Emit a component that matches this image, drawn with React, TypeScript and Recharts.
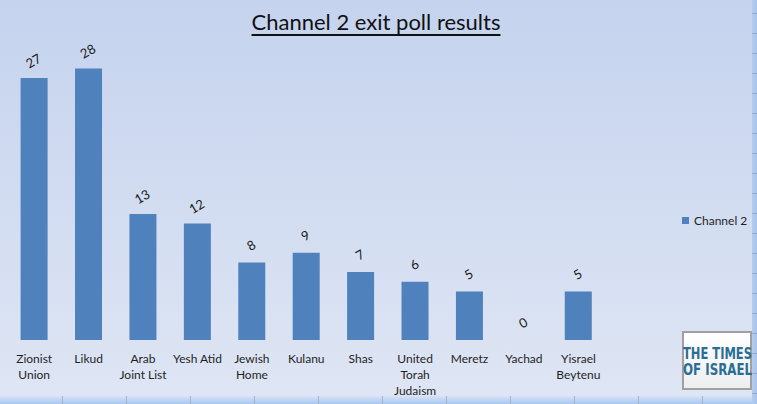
import React from "react";
import { Bar, BarChart, LabelList, Legend, XAxis, YAxis } from "recharts";

const parties = [
  "Zionist\nUnion",
  "Likud",
  "Arab\nJoint List",
  "Yesh Atid",
  "Jewish\nHome",
  "Kulanu",
  "Shas",
  "United\nTorah\nJudaism",
  "Meretz",
  "Yachad",
  "Yisrael\nBeytenu",
  "",
];
const seats: (number | null)[] = [27, 28, 13, 12, 8, 9, 7, 6, 5, 0, 5, null];
const boundaries = [0, 1, 2, 3, 4, 5, 6, 7, 8, 9, 10, 11, 12];

const data = parties.map((p, i) => ({ party: p, "Channel 2": seats[i] }));

const FONT = "Lato, 'Open Sans', sans-serif";
const BAR = "#4f81bd";
const LOGO_FONT = "'Liberation Sans Narrow', 'DejaVu Sans Condensed', sans-serif";

function PartyTick({ x, y, payload }: any) {
  const lines = String(payload.value).split("\n");
  return (
    <text x={x} y={y} textAnchor="middle" fontSize={12} fontFamily={FONT} fill="#1f1f1f">
      {lines.map((l, i) => (
        <tspan key={i} x={x} dy={i === 0 ? 21 : 16}>
          {l}
        </tspan>
      ))}
    </text>
  );
}

function SeatLabel({ x, y, width, value }: any) {
  if (value == null) return null;
  const cx = x + width / 2;
  const cy = y - 16;
  return (
    <text
      x={cx}
      y={cy}
      transform={`rotate(-30 ${cx} ${cy})`}
      textAnchor="middle"
      dominantBaseline="middle"
      fontSize={13}
      fontFamily={FONT}
      fill="#1a1a1a"
    >
      {value}
    </text>
  );
}

function LegendBox() {
  return (
    <div style={{ display: "flex", alignItems: "center", fontFamily: FONT, fontSize: 12, color: "#1f1f1f" }}>
      <span style={{ width: 7, height: 7, background: BAR, marginRight: 5, display: "inline-block" }} />
      Channel 2
    </div>
  );
}

export default function App() {
  const cellLines = [62, 126, 190, 254, 318, 382, 446, 510, 574, 638, 702];
  const rowLines = [13, 33, 53, 73, 93, 113, 133, 153, 173, 193, 213, 233, 253, 273, 293, 313, 333, 353, 373, 393];
  return (
    <div
      style={{
        position: "absolute",
        left: 0,
        top: 0,
        width: 757,
        height: 404,
        overflow: "hidden",
        background: "linear-gradient(#c5d3ee, #dfe6f4)",
      }}
    >
      <div
        style={{
          position: "absolute",
          left: 0,
          width: 752,
          top: 8,
          textAlign: "center",
          fontFamily: FONT,
          fontSize: 22,
          color: "#111",
          textDecoration: "underline",
          textDecorationThickness: 2,
          textUnderlineOffset: 4,
        }}
      >
        Channel 2 exit poll results
      </div>

      <BarChart
        width={757}
        height={404}
        data={data}
        margin={{ top: 49, right: 97, left: 7, bottom: 0 }}
        barCategoryGap="25%"
        style={{ position: "absolute", left: 0, top: 0 }}
      >
        <XAxis
          xAxisId="grid"
          type="number"
          domain={[0, 12]}
          ticks={boundaries}
          tick={false}
          tickSize={5}
          height={0}
          stroke="#8a8a8a"
        />
        <XAxis
          dataKey="party"
          interval={0}
          tick={<PartyTick />}
          tickLine={false}
          axisLine={false}
          tickSize={0}
          height={64}
        />
        <YAxis hide width={0} domain={[0, 30]} />
        <Legend
          layout="horizontal"
          verticalAlign="middle"
          align="center"
          wrapperStyle={{ left: 682, top: 213, width: "auto" }}
          content={<LegendBox />}
        />
        <Bar
          dataKey="Channel 2"
          fill={BAR}
          minPointSize={(v: number) => (v === 0 ? 0.001 : 0)}
          isAnimationActive={false}
        >
          <LabelList dataKey="Channel 2" content={<SeatLabel />} />
        </Bar>
      </BarChart>

      {/* logo */}
      <svg style={{ position: "absolute", left: 681, top: 331 }} width={76} height={60}>
        <defs>
          <linearGradient id="logoBg" x1="0" y1="0" x2="0" y2="1">
            <stop offset="0%" stopColor="#ffffff" />
            <stop offset="100%" stopColor="#eceef0" />
          </linearGradient>
        </defs>
        <rect x={2} y={1} width={68} height={57} fill="url(#logoBg)" stroke="#a0a0a0" strokeWidth={2} />
        <text x={2} y={28} textLength={69} lengthAdjust="spacingAndGlyphs" fontSize={15} fontWeight="bold" fontFamily={LOGO_FONT} fill="#2b6e94">
          THE TIMES
        </text>
        <text x={2} y={44} textLength={69} lengthAdjust="spacingAndGlyphs" fontSize={15} fontWeight="bold" fontFamily={LOGO_FONT} fill="#2b6e94">
          OF ISRAEL
        </text>
      </svg>

      {/* sheet edges */}
      <div
        style={{
          position: "absolute",
          left: 0,
          top: 395,
          width: 757,
          height: 9,
          background: "linear-gradient(#dde6f5, #a9c7ef)",
        }}
      />
      {cellLines.map((x) => (
        <div key={x} style={{ position: "absolute", left: x, top: 396, width: 1, height: 8, background: "#9fb3cf" }} />
      ))}
      <div
        style={{
          position: "absolute",
          left: 752,
          top: 0,
          width: 5,
          height: 404,
          background: "linear-gradient(90deg, #b7cdee, #a6c3ee)",
        }}
      />
      {rowLines.map((y) => (
        <div key={y} style={{ position: "absolute", left: 752, top: y, width: 5, height: 1, background: "#8fa8cc" }} />
      ))}
    </div>
  );
}
